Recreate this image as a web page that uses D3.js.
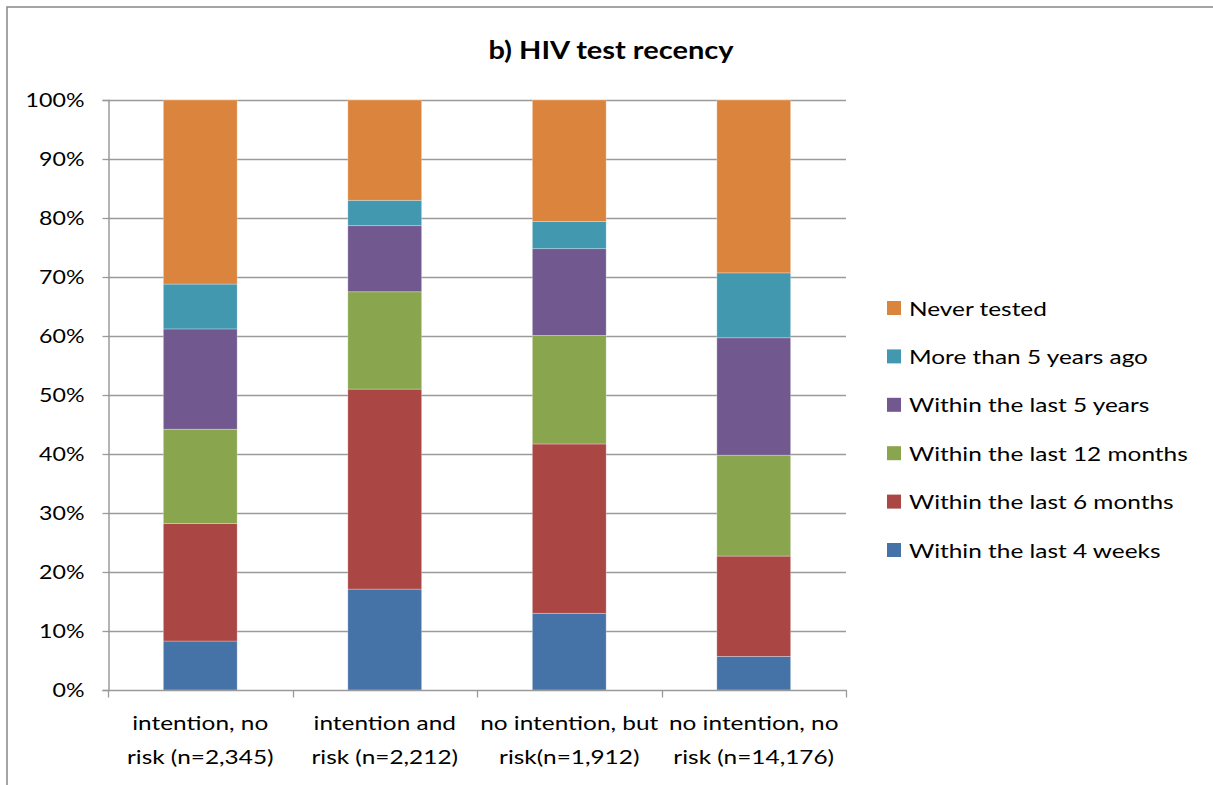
<!DOCTYPE html>
<html>
<head>
<meta charset="utf-8">
<script src="https://cdn.jsdelivr.net/npm/d3@7"></script>
<style>
  body { margin: 0; background: #fff; }
  svg { display: block; font-family: Lato, "Open Sans", sans-serif; }
</style>
</head>
<body>
<div id="container"></div>
<script>
const categories = [
    ['intention, no', 'risk (n=2,345)'],
    ['intention and', 'risk (n=2,212)'],
    ['no intention, but', 'risk(n=1,912)'],
    ['no intention, no', 'risk (n=14,176)']
];
const seriesNames = ['Within the last 4 weeks', 'Within the last 6 months', 'Within the last 12 months',
    'Within the last 5 years', 'More than 5 years ago', 'Never tested'];
const seriesColors = ['#4572A7', '#AA4643', '#89A54E', '#71588F', '#4198AF', '#DB843D'];
// percent per category, one array per series
const weeks4 = [8.3, 17.1, 13.0, 5.7];
const months6 = [19.9, 33.9, 28.7, 17.0];
const months12 = [16.0, 16.5, 18.4, 17.1];
const years5 = [17.0, 11.2, 14.7, 19.9];
const over5 = [7.6, 4.3, 4.6, 11.0];
const never = [31.2, 17.0, 20.6, 29.3];
const yTicks = [0, 10, 20, 30, 40, 50, 60, 70, 80, 90, 100];

const series = [weeks4, months6, months12, years5, over5, never];
const rows = categories.map((c, i) => {
    const r = { idx: i };
    seriesNames.forEach((s, j) => { r[s] = series[j][i]; });
    return r;
});
const stacked = d3.stack().keys(seriesNames)(rows);

const W = 1213, H = 785;
const plotL = 108, plotR = 846, plotT = 100, plotB = 690;
const SX = 1.22; // the original text is a bit wider than Lato

// widen a text element around its own x anchor
function stretch(sel, sx) {
    sel.each(function () {
        const ax = +(this.getAttribute('x') || 0);
        d3.select(this).attr('transform', `translate(${ax},0) scale(${sx},1) translate(${-ax},0)`);
    });
}

const svg = d3.select('#container').append('svg')
    .attr('width', W)
    .attr('height', H);

// outer chart frame (runs off the right/bottom edge)
svg.append('rect')
    .attr('x', 7).attr('y', 7)
    .attr('width', W + 20).attr('height', H + 20)
    .attr('fill', 'none')
    .attr('stroke', '#868686')
    .attr('stroke-width', 1.5);

const x = d3.scaleBand().domain(d3.range(categories.length)).range([plotL, plotR]).paddingInner(0.6).paddingOuter(0.3);
const xOuter = d3.scaleBand().domain(d3.range(categories.length)).range([plotL, plotR]);
const y = d3.scaleLinear().domain([0, 100]).range([plotB, plotT]);

// gridlines
svg.append('g')
    .selectAll('line')
    .data(yTicks.filter(t => t > 0))
    .join('line')
    .attr('x1', plotL).attr('x2', plotR)
    .attr('y1', d => Math.round(y(d)) + 0.5).attr('y2', d => Math.round(y(d)) + 0.5)
    .attr('stroke', '#9a9a9a')
    .attr('stroke-width', 1.3);

// bars
svg.append('g')
    .selectAll('g')
    .data(stacked)
    .join('g')
    .attr('fill', (d, i) => seriesColors[i])
    .selectAll('rect')
    .data(d => d)
    .join('rect')
    .attr('x', d => x(d.data.idx))
    .attr('width', x.bandwidth())
    .attr('y', d => y(d[1]))
    .attr('height', d => y(d[0]) - y(d[1]))
    .attr('stroke', 'rgba(255,255,255,0.35)')
    .attr('stroke-width', 0.8);

// y axis
const yAxis = svg.append('g')
    .attr('transform', `translate(${plotL + 0.5},0)`)
    .call(d3.axisLeft(y).tickValues(yTicks).tickFormat(d => d + '%').tickSize(6).tickPadding(18));
yAxis.select('.domain').attr('stroke', '#9a9a9a').attr('stroke-width', 1.5);
yAxis.selectAll('.tick line').attr('stroke', '#9a9a9a').attr('stroke-width', 1.3);
yAxis.selectAll('.tick text')
    .attr('font-size', 19).attr('fill', '#000').attr('font-family', 'Lato')
    .call(stretch, SX);

// x axis
const xg = svg.append('g').attr('transform', `translate(0,${plotB + 0.5})`);
xg.append('line')
    .attr('x1', plotL).attr('x2', plotR + 1)
    .attr('stroke', '#9a9a9a').attr('stroke-width', 1.5);
xg.selectAll('.xtick')
    .data(d3.range(categories.length + 1))
    .join('line')
    .attr('class', 'xtick')
    .attr('x1', d => Math.round(d < categories.length ? xOuter(d) : plotR) + 0.5)
    .attr('x2', d => Math.round(d < categories.length ? xOuter(d) : plotR) + 0.5)
    .attr('y1', 0).attr('y2', 7)
    .attr('stroke', '#9a9a9a').attr('stroke-width', 1.3);
const xLabels = xg.selectAll('.xlabel')
    .data(categories)
    .join('text')
    .attr('class', 'xlabel')
    .attr('x', (d, i) => xOuter(i) + xOuter.bandwidth() / 2)
    .attr('text-anchor', 'middle')
    .attr('font-size', 20);
xLabels.selectAll('tspan')
    .data((d, i) => d.map(t => ({ t, i })))
    .join('tspan')
    .attr('x', d => xOuter(d.i) + xOuter.bandwidth() / 2)
    .attr('y', (d, k) => 40 + k * 34)
    .text(d => d.t);
xLabels.call(stretch, SX);

// title
svg.append('text')
    .attr('x', 611).attr('y', 59)
    .attr('text-anchor', 'middle')
    .attr('font-size', 25)
    .attr('font-weight', 'bold')
    .text('b) HIV test recency')
    .call(stretch, 1.16);

// legend, top entry is the last series
const legend = svg.append('g')
    .selectAll('g')
    .data(seriesNames.slice().reverse())
    .join('g')
    .attr('transform', (d, i) => `translate(887,${308 + i * 48.4})`);
legend.append('rect')
    .attr('x', 0).attr('y', -7)
    .attr('width', 14).attr('height', 14)
    .attr('fill', d => seriesColors[seriesNames.indexOf(d)]);
legend.append('text')
    .attr('x', 22).attr('y', 7.5)
    .attr('font-size', 20)
    .text(d => d)
    .call(stretch, SX);
</script>
</body>
</html>
